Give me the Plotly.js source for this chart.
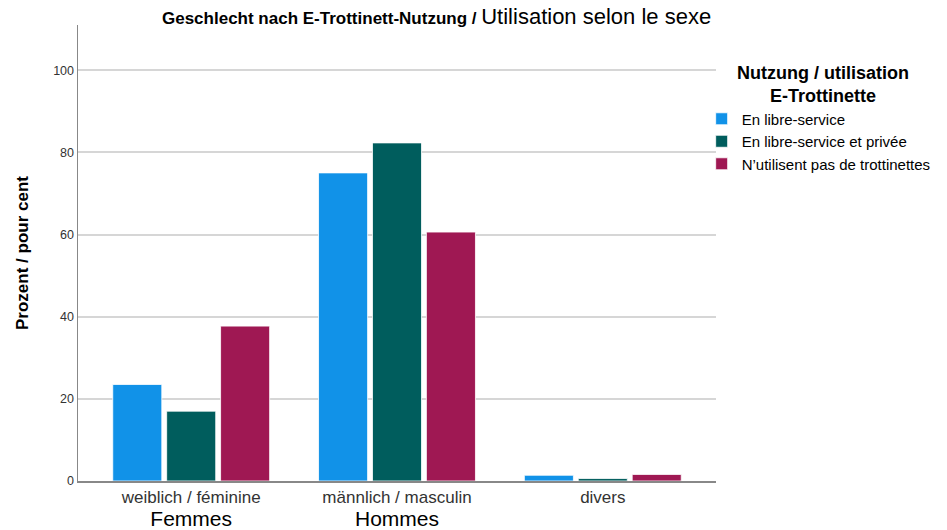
<!DOCTYPE html>
<html>
<head>
<meta charset="utf-8">
<script src="https://cdn.plot.ly/plotly-3.0.1.min.js"></script>
<style>html,body{margin:0;padding:0;background:#fff;}#chart{width:947px;height:530px;}</style>
</head>
<body>
<div id="chart"></div>
<script>
const categories = ["weiblich / féminine", "männlich / masculin", "divers"];
const categoriesFr = ["Femmes", "Hommes", ""];
const seriesNames = ["En libre-service", "En libre-service et privée", "N’utilisent pas de trottinettes"];
const libreService = [23.5, 75.0, 1.4];
const libreServicePrivee = [17.0, 82.3, 0.6];
const pasDeTrottinette = [37.7, 60.6, 1.6];
const yTicks = [0, 20, 40, 60, 80, 100];
const colors = ["#1192E8", "#005D5D", "#9F1853"];
const legendTitle = "Nutzung / utilisation<br>E-Trottinette";

const seriesValues = [libreService, libreServicePrivee, pasDeTrottinette];
const xIdx = categories.map((c, i) => i);
const tickText = categories.map((c, i) =>
  categoriesFr[i]
    ? c + "<br><span style='font-size:21px;color:#000'>" + categoriesFr[i] + "</span>"
    : c);

const traces = seriesValues.map((vals, k) => ({
  type: "bar",
  x: xIdx,
  y: vals,
  name: seriesNames[k],
  marker: {color: colors[k], line: {color: "rgba(255,255,255,0.8)", width: 1}},
  hoverinfo: "skip"
}));

const layout = {
  width: 947, height: 530,
  paper_bgcolor: "#fff", plot_bgcolor: "#fff",
  font: {family: "Liberation Sans, Arial, sans-serif", color: "#000"},
  margin: {l: 78, r: 230, t: 25, b: 49, pad: 0},
  barmode: "group",
  bargap: 0.214,
  bargroupgap: 0.09,
  showlegend: true,
  title: {
    text: "<b>Geschlecht nach E-Trottinett-Nutzung /</b> <span style='font-size:22px'>Utilisation selon le sexe</span>",
    font: {size: 17, color: "#000", family: "Liberation Sans, Arial, sans-serif"},
    x: 0.461, xanchor: "center", xref: "container",
    y: 0.966, yanchor: "middle", yref: "container"
  },
  xaxis: {
    range: [-0.55, 2.55],
    tickmode: "array", tickvals: xIdx, ticktext: tickText,
    tickfont: {size: 17, color: "#333"},
    showgrid: false, zeroline: false,
    showline: true, linecolor: "#888", linewidth: 2,
    ticks: "", fixedrange: true
  },
  yaxis: {
    range: [0, 111],
    tickmode: "array", tickvals: yTicks,
    tickfont: {size: 12.5, color: "#333"},
    showgrid: true, gridcolor: "#d6d6d6", gridwidth: 2,
    zeroline: false, showline: true, linecolor: "#888", linewidth: 1.5,
    ticks: "", ticklen: 0,
    title: {text: "<b>Prozent / pour cent</b>", font: {size: 17, color: "#000"}, standoff: 20},
    automargin: false, fixedrange: true
  },
  legend: {
    x: 0.976, xanchor: "left", y: 0.83, yanchor: "top",
    bgcolor: "rgba(0,0,0,0)",
    font: {size: 15, color: "#000"},
    itemwidth: 30, tracegroupgap: 0
  },
  annotations: [{
    text: "<b>" + legendTitle + "</b>",
    xref: "paper", yref: "paper",
    x: 1.1675, y: 0.922, xanchor: "center", yanchor: "top",
    align: "center", showarrow: false,
    font: {size: 18, color: "#000"}
  }]
};

Plotly.newPlot("chart", traces, layout, {displayModeBar: false, staticPlot: true});
</script>
</body>
</html>
